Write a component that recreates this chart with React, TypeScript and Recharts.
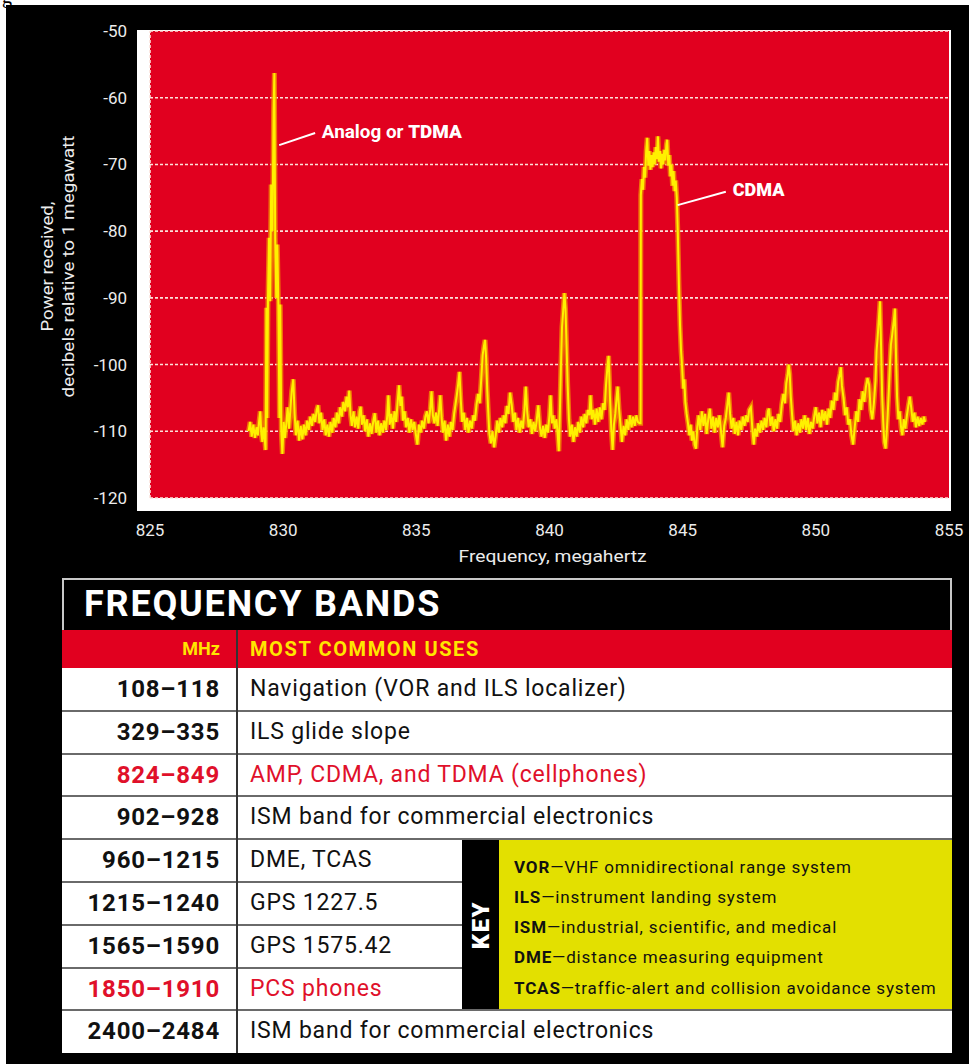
import React from 'react';
import {
  LineChart, Line, XAxis, YAxis, CartesianGrid, ReferenceLine, ReferenceDot,
} from 'recharts';

type Pt = [number, number];

const FONT = 'Roboto, "Liberation Sans", sans-serif';
const RED = '#E1001F';
const HEAD_YELLOW = '#FFE600';
const KEY_YELLOW = '#E3E000';
const GRID = '#FBE2DA';

const freqTicks = [825, 830, 835, 840, 845, 850, 855];
const dbTicks = [-120, -110, -100, -90, -80, -70, -60, -50];

// spectrum trace, [MHz, dB]
const noiseLeft: Pt[] = [
  [828.70, -110.0], [828.76, -108.6], [828.82, -110.8], [828.88, -109.0], [828.94, -111.0],
  [829.00, -109.4], [829.05, -110.6], [829.10, -108.4], [829.14, -107.0], [829.18, -110.4],
  [829.22, -111.6], [829.26, -109.4], [829.30, -110.8], [829.34, -112.8],
];

const analogSpike: Pt[] = [
  [829.37, -91.5], [829.40, -108.0], [829.43, -90.0], [829.47, -81.0], [829.51, -90.5],
  [829.55, -73.0], [829.60, -80.0], [829.64, -62.0], [829.67, -56.3], [829.70, -81.0],
  [829.74, -90.0], [829.78, -82.0], [829.82, -91.0], [829.86, -108.0], [829.89, -91.0],
  [829.93, -110.0],
];

const lowerBand: Pt[] = [
  [829.97, -113.4], [830.02, -108.6], [830.07, -111.0], [830.12, -108.8], [830.17, -106.4],
  [830.22, -109.6], [830.27, -106.8], [830.32, -104.0], [830.38, -102.2], [830.43, -107.4],
  [830.48, -110.6], [830.54, -108.4], [830.60, -111.4], [830.66, -109.2], [830.72, -111.2],
  [830.78, -109.0], [830.84, -110.6], [830.90, -108.4], [830.96, -109.8], [831.02, -107.8],
  [831.08, -109.2], [831.14, -107.4], [831.20, -108.6], [831.26, -106.8], [831.31, -106.1],
  [831.36, -108.8], [831.42, -107.2], [831.48, -109.8], [831.54, -108.2], [831.60, -110.6],
  [831.66, -109.0], [831.72, -110.8], [831.78, -108.6], [831.84, -110.2], [831.90, -108.0],
  [831.96, -109.4], [832.02, -107.2], [832.08, -108.8], [832.14, -106.4], [832.20, -107.8],
  [832.26, -105.6], [832.32, -107.0], [832.38, -104.8], [832.43, -106.4], [832.48, -103.9],
  [832.53, -107.6], [832.58, -109.2], [832.64, -107.0], [832.70, -109.4], [832.76, -107.8],
  [832.82, -109.6], [832.87, -107.0], [832.91, -106.3], [832.96, -109.0], [833.02, -107.6],
  [833.08, -110.0], [833.14, -108.2], [833.20, -110.8], [833.26, -108.8], [833.32, -110.4],
  [833.38, -108.6], [833.44, -107.3], [833.50, -110.2], [833.56, -108.4], [833.62, -110.6],
  [833.68, -108.8], [833.74, -110.2], [833.80, -108.4], [833.86, -109.8], [833.91, -107.6],
  [833.95, -104.6], [834.00, -109.0], [834.06, -107.4], [834.12, -109.6], [834.18, -107.0],
  [834.24, -108.6], [834.30, -105.6], [834.35, -103.1], [834.40, -106.2], [834.45, -104.8],
  [834.50, -108.4], [834.56, -107.0], [834.62, -109.4], [834.68, -108.0], [834.74, -110.2],
  [834.80, -108.2], [834.86, -109.8], [834.92, -108.6], [834.98, -110.4], [835.04, -112.0],
  [835.10, -109.0], [835.16, -110.2], [835.22, -108.4], [835.28, -109.6], [835.34, -107.8],
  [835.40, -107.0], [835.46, -108.8], [835.52, -106.8], [835.57, -104.0], [835.62, -107.6],
  [835.68, -108.8], [835.74, -107.2], [835.80, -109.2], [835.86, -106.6], [835.90, -104.6],
  [835.95, -108.0], [836.00, -110.2], [836.06, -108.4], [836.12, -111.4], [836.18, -109.0],
  [836.24, -110.8], [836.30, -108.6], [836.36, -109.8], [836.42, -107.4], [836.47, -106.0],
  [836.52, -104.6], [836.57, -103.0], [836.62, -101.1], [836.67, -105.4], [836.72, -108.6],
  [836.78, -107.2], [836.84, -109.8], [836.90, -108.0], [836.96, -110.2], [837.02, -108.4],
  [837.08, -109.6], [837.14, -107.6], [837.20, -108.4], [837.26, -106.0], [837.32, -104.4],
  [837.38, -105.8], [837.44, -102.0], [837.49, -98.6], [837.54, -97.2], [837.58, -96.3],
  [837.62, -99.0], [837.66, -103.6], [837.70, -107.0], [837.74, -110.2], [837.80, -111.8],
  [837.86, -110.0], [837.92, -112.4], [837.98, -110.6], [838.04, -108.4], [838.10, -110.2],
  [838.16, -108.0], [838.22, -109.4], [838.28, -107.6], [838.34, -108.8], [838.40, -106.2],
  [838.46, -107.4], [838.52, -104.2], [838.58, -106.0], [838.64, -108.6], [838.70, -107.2],
  [838.76, -109.8], [838.82, -108.0], [838.88, -110.2], [838.94, -108.4], [839.00, -109.6],
  [839.06, -106.8], [839.11, -103.3], [839.16, -107.0], [839.22, -109.4], [839.28, -108.2],
  [839.34, -110.4], [839.40, -108.6], [839.46, -110.0], [839.52, -108.4], [839.58, -106.1],
  [839.64, -109.4], [839.70, -110.8], [839.76, -109.2], [839.82, -111.0], [839.88, -109.0],
  [839.94, -110.2], [840.00, -107.6], [840.04, -104.6], [840.09, -108.8], [840.14, -107.6],
  [840.20, -109.6], [840.26, -108.2], [840.31, -110.6], [840.35, -113.0], [840.39, -107.0],
  [840.43, -100.2], [840.47, -94.4], [840.51, -92.2], [840.56, -89.3], [840.60, -91.6],
  [840.64, -97.0], [840.68, -102.8], [840.73, -108.2], [840.78, -110.8], [840.84, -109.0],
  [840.90, -111.6], [840.96, -109.4], [841.02, -110.8], [841.08, -108.6], [841.14, -110.2],
  [841.20, -107.8], [841.26, -109.4], [841.32, -107.4], [841.38, -108.8], [841.44, -106.8],
  [841.50, -107.6], [841.54, -104.6], [841.59, -108.2], [841.65, -106.8], [841.71, -109.0],
  [841.77, -106.6], [841.83, -108.6], [841.89, -106.4], [841.95, -108.2], [842.01, -105.8],
  [842.07, -106.8], [842.12, -103.2], [842.17, -100.6], [842.22, -98.7], [842.27, -104.8],
  [842.32, -109.6], [842.37, -112.8], [842.42, -109.0], [842.47, -107.4], [842.52, -105.0],
  [842.56, -103.3], [842.61, -106.6], [842.66, -108.8], [842.72, -111.6], [842.78, -109.2],
  [842.84, -110.6], [842.90, -108.2], [842.96, -109.8], [843.02, -107.6], [843.08, -109.4],
  [843.14, -107.8], [843.20, -109.2], [843.26, -107.6], [843.32, -108.6], [843.38, -108.8],
];

const cdmaBlock: Pt[] = [
  [843.42, -108.8], [843.43, -74.6], [843.47, -72.2], [843.51, -73.8], [843.55, -70.4],
  [843.59, -72.0], [843.63, -68.0], [843.67, -66.0], [843.71, -70.2], [843.75, -68.0],
  [843.79, -70.8], [843.83, -68.6], [843.87, -70.4], [843.91, -68.2], [843.95, -70.0],
  [843.99, -67.4], [844.03, -69.2], [844.07, -65.8], [844.11, -69.6], [844.15, -68.0],
  [844.19, -70.6], [844.23, -68.4], [844.27, -70.0], [844.31, -67.8], [844.35, -69.4],
  [844.39, -67.0], [844.42, -66.3], [844.46, -70.2], [844.50, -68.6], [844.54, -71.8],
  [844.58, -70.0], [844.62, -73.2], [844.66, -71.0], [844.70, -74.0], [844.74, -72.4],
  [844.78, -75.0], [844.82, -80.6], [844.86, -88.0], [844.90, -94.0], [844.94, -98.0],
  [844.98, -100.4], [845.02, -103.6], [845.06, -102.2], [845.10, -105.6], [845.15, -107.4],
  [845.20, -108.8], [845.25, -110.6], [845.30, -109.0], [845.35, -111.4], [845.40, -110.0],
  [845.45, -112.0], [845.50, -112.6],
];

const upperBand: Pt[] = [
  [845.55, -109.4], [845.60, -107.6], [845.66, -109.8], [845.72, -107.0], [845.78, -109.2],
  [845.84, -107.4], [845.90, -110.4], [845.96, -108.2], [846.02, -106.6], [846.08, -109.6],
  [846.14, -107.8], [846.20, -110.2], [846.26, -108.0], [846.32, -109.4], [846.38, -107.6],
  [846.44, -110.0], [846.50, -112.4], [846.56, -109.2], [846.62, -108.0], [846.68, -106.0],
  [846.73, -104.2], [846.78, -107.4], [846.84, -109.6], [846.90, -108.0], [846.96, -110.4],
  [847.02, -108.6], [847.08, -110.6], [847.14, -108.4], [847.20, -109.8], [847.26, -107.8],
  [847.32, -109.2], [847.38, -107.6], [847.44, -108.6], [847.50, -106.8], [847.56, -106.4],
  [847.62, -109.8], [847.67, -112.0], [847.72, -109.6], [847.78, -110.8], [847.84, -108.8],
  [847.90, -110.2], [847.96, -108.4], [848.02, -109.8], [848.08, -108.0], [848.14, -109.4],
  [848.20, -107.0], [848.24, -106.6], [848.30, -109.2], [848.36, -107.8], [848.42, -110.0],
  [848.48, -108.2], [848.54, -109.6], [848.60, -107.4], [848.66, -108.6], [848.72, -106.0],
  [848.78, -104.4], [848.84, -105.8], [848.89, -102.8], [848.94, -101.6], [848.98, -100.0],
  [849.02, -101.4], [849.06, -104.8], [849.11, -107.6], [849.16, -110.0], [849.22, -108.4],
  [849.28, -110.6], [849.34, -108.8], [849.40, -110.2], [849.46, -108.2], [849.52, -109.6],
  [849.58, -107.6], [849.64, -109.8], [849.70, -108.0], [849.76, -110.4], [849.82, -108.6],
  [849.88, -109.6], [849.94, -107.8], [850.00, -106.4], [850.06, -108.8], [850.12, -107.2],
  [850.18, -109.4], [850.24, -106.8], [850.30, -108.4], [850.36, -107.0], [850.42, -109.0],
  [850.48, -106.6], [850.54, -108.0], [850.60, -105.4], [850.66, -106.8], [850.72, -104.2],
  [850.78, -105.4], [850.84, -102.6], [850.90, -101.4], [850.94, -100.4], [850.98, -103.2],
  [851.04, -105.0], [851.10, -107.6], [851.16, -106.4], [851.22, -109.0], [851.28, -108.2],
  [851.34, -110.6], [851.40, -112.0], [851.46, -109.4], [851.52, -107.0], [851.58, -108.6],
  [851.64, -105.2], [851.70, -106.8], [851.76, -104.0], [851.82, -105.6], [851.88, -103.4],
  [851.94, -102.0], [852.00, -103.0], [852.06, -106.8], [852.12, -108.2], [852.18, -105.8],
  [852.24, -102.4], [852.28, -98.0], [852.32, -96.0], [852.36, -93.6], [852.41, -90.5],
  [852.45, -97.4], [852.49, -104.6], [852.53, -108.6], [852.57, -111.6], [852.62, -112.6],
  [852.66, -110.2], [852.70, -107.4], [852.74, -104.0], [852.78, -100.2], [852.82, -97.0],
  [852.86, -95.8], [852.90, -94.4], [852.94, -93.0], [852.97, -91.6], [853.01, -98.6],
  [853.05, -104.8], [853.10, -108.2], [853.15, -107.0], [853.20, -109.4], [853.25, -110.6],
  [853.30, -108.2], [853.36, -109.6], [853.42, -107.6], [853.48, -106.0], [853.53, -104.8],
  [853.58, -106.4], [853.64, -108.6], [853.70, -107.2], [853.76, -109.4], [853.82, -107.8],
  [853.88, -109.2], [853.94, -108.0], [854.00, -109.0], [854.06, -107.8], [854.10, -108.6],
];

const trace = [...noiseLeft, ...analogSpike, ...lowerBand, ...cdmaBlock, ...upperBand]
  .map(([f, db]) => ({ f, db }));

// frequency band table
const bandRanges = ['108–118', '329–335', '824–849', '902–928', '960–1215', '1215–1240', '1565–1590', '1850–1910', '2400–2484'];
const bandUses = [
  'Navigation (VOR and ILS localizer)',
  'ILS glide slope',
  'AMP, CDMA, and TDMA (cellphones)',
  'ISM band for commercial electronics',
  'DME, TCAS',
  'GPS 1227.5',
  'GPS 1575.42',
  'PCS phones',
  'ISM band for commercial electronics',
];
const bandHighlighted = [false, false, true, false, false, false, false, true, false];

const keyAbbr = ['VOR', 'ILS', 'ISM', 'DME', 'TCAS'];
const keyMeaning = [
  'VHF omnidirectional range system',
  'instrument landing system',
  'industrial, scientific, and medical',
  'distance measuring equipment',
  'traffic-alert and collision avoidance system',
];

function Spectrum() {
  const tickStyle = { fill: '#ececec', fontSize: 17, fontFamily: FONT };
  return (
    <LineChart width={969} height={580} data={trace} margin={{ top: 31, right: 20, bottom: 0, left: 0 }}>
      <CartesianGrid fill={RED} vertical={false} stroke={GRID} strokeWidth={1.6} strokeDasharray="3 2" />
      <XAxis
        type="number" dataKey="f" domain={[825, 855]} ticks={freqTicks} allowDataOverflow
        axisLine={false} tickLine={false} tickMargin={20} height={82} tick={tickStyle}
        label={{
          content: ({ viewBox }: any) => (
            <text x={viewBox.x + viewBox.width / 2 + 3} y={viewBox.y + 64} textAnchor="middle"
              fill="#ececec" fontSize={17} fontFamily={FONT} textLength={188} lengthAdjust="spacingAndGlyphs">
              Frequency, megahertz
            </text>
          ),
        }}
      />
      <YAxis
        type="number" domain={[-120, -50]} ticks={dbTicks} width={150}
        axisLine={false} tickLine={false} tickMargin={17} tick={tickStyle}
        label={{
          content: ({ viewBox }: any) => {
            const cy = viewBox.y + viewBox.height / 2 + 2;
            return (
              <text transform={`translate(0 ${cy}) rotate(-90)`} textAnchor="middle"
                fill="#ececec" fontSize={17} fontFamily={FONT}>
                <tspan x={0} y={53} textLength={130} lengthAdjust="spacingAndGlyphs">Power received,</tspan>
                <tspan x={0} y={74} textLength={262} lengthAdjust="spacingAndGlyphs">decibels relative to 1 megawatt</tspan>
              </text>
            );
          },
        }}
      />
      <ReferenceLine x={825} stroke={GRID} strokeWidth={1.6} strokeDasharray="3 2" />
      <Line type="linear" dataKey="db" stroke="#F39000" strokeOpacity={0.8} strokeWidth={5} dot={false} isAnimationActive={false} />
      <Line type="linear" dataKey="db" stroke="#FFF000" strokeWidth={2} dot={false} isAnimationActive={false} />
      <ReferenceLine segment={[{ x: 829.85, y: -67.1 }, { x: 831.2, y: -65.3 }]} stroke="#fff" strokeWidth={2} />
      <ReferenceDot
        x={831.45} y={-65.1} r={0}
        shape={(p: any) => (
          <text x={p.cx} y={p.cy} dy={6} fill="#fff" fontSize={18} fontWeight={700} fontFamily={FONT}
            textLength={140} lengthAdjust="spacingAndGlyphs">
            Analog or <tspan fontWeight={900}>TDMA</tspan>
          </text>
        )}
      />
      <ReferenceLine segment={[{ x: 844.81, y: -76.1 }, { x: 846.62, y: -74.1 }]} stroke="#fff" strokeWidth={2} />
      <ReferenceDot
        x={846.88} y={-73.8} r={0}
        shape={(p: any) => (
          <text x={p.cx} y={p.cy} dy={6} fill="#fff" fontSize={18} fontWeight={900} fontFamily={FONT}>CDMA</text>
        )}
      />
    </LineChart>
  );
}

function BandTable() {
  const headH = 52;
  const subH = 38;
  const rowH = 42.8;
  const top0 = headH + subH;
  const keyTop = top0 + 4 * rowH;
  const keyBottom = top0 + 8 * rowH;
  return (
    <div style={{ position: 'absolute', left: 62, top: 578, width: 890, height: top0 + 9 * rowH, background: '#fff', fontFamily: FONT }}>
      <div style={{ position: 'absolute', left: 0, top: 0, width: 886, height: headH - 2, background: '#000', border: '2px solid #c8c8c8', borderBottom: 'none' }}>
        <div style={{ position: 'absolute', left: 20, top: 3, color: '#fff', fontSize: 36, fontWeight: 700, letterSpacing: 1.8 }}>FREQUENCY BANDS</div>
      </div>
      <div style={{ position: 'absolute', left: 0, top: headH, width: 890, height: subH, background: RED, color: HEAD_YELLOW, fontWeight: 700, fontSize: 20 }}>
        <div style={{ position: 'absolute', left: 0, width: 158, top: 7, textAlign: 'right', fontSize: 18, paddingTop: 1 }}>MHz</div>
        <div style={{ position: 'absolute', left: 188, top: 7, letterSpacing: 1.6 }}>MOST COMMON USES</div>
      </div>
      {bandRanges.map((r, i) => {
        const y = top0 + i * rowH;
        const color = bandHighlighted[i] ? '#E0102A' : '#111';
        return (
          <div key={r}>
            <div style={{ position: 'absolute', left: 0, width: 158, top: y, height: rowH, lineHeight: `${rowH}px`, textAlign: 'right', fontWeight: 700, fontSize: 24, color, letterSpacing: 0.8 }}>{r}</div>
            <div style={{ position: 'absolute', left: 188, top: y, height: rowH, lineHeight: `${rowH}px`, fontSize: 23, color, whiteSpace: 'nowrap', letterSpacing: 0.8 }}>{bandUses[i]}</div>
            {i > 0 && (
              <div style={{ position: 'absolute', left: 0, top: y - 1, width: i >= 5 && i <= 7 ? 400 : 890, height: 2, background: '#6a6a6a' }} />
            )}
          </div>
        );
      })}
      <div style={{ position: 'absolute', left: 174, top: headH, width: 1.5, height: subH + 9 * rowH, background: '#333' }} />
      <div style={{ position: 'absolute', left: 400, top: keyTop + 1, width: 37, height: keyBottom - keyTop - 2, background: '#000' }}>
        <div style={{ position: 'absolute', left: '50%', top: '50%', transform: 'translate(-50%, -50%) rotate(-90deg)', color: '#fff', fontWeight: 900, fontSize: 24, letterSpacing: 1.5 }}>KEY</div>
      </div>
      <div style={{ position: 'absolute', left: 437, top: keyTop + 1, width: 453, height: keyBottom - keyTop - 2, background: KEY_YELLOW, display: 'flex', flexDirection: 'column', justifyContent: 'center', paddingTop: 5, boxSizing: 'border-box' }}>
        {keyAbbr.map((a, i) => (
          <div key={a} style={{ height: 30.2, lineHeight: '30.2px', paddingLeft: 15, fontSize: 17, color: '#111', whiteSpace: 'nowrap', letterSpacing: 0.85 }}>
            <b>{a}</b>—{keyMeaning[i]}
          </div>
        ))}
      </div>
    </div>
  );
}

export default function App() {
  return (
    <div style={{ position: 'relative', width: 969, height: 1064, overflow: 'hidden', background: '#fff' }}>
      <style>{'body{margin:0;background:#fff}'}</style>
      <div style={{ position: 'absolute', left: 2, top: -15, fontFamily: '"Liberation Serif", serif', fontSize: 20, color: '#000' }}>g</div>
      <div style={{ position: 'absolute', left: 6, top: 5, right: 0, bottom: 0, background: '#000' }} />
      <div style={{ position: 'absolute', left: 137, top: 30, width: 814, height: 481, background: '#fff' }} />
      <div style={{ position: 'absolute', left: 0, top: 0 }}>
        <Spectrum />
      </div>
      <BandTable />
    </div>
  );
}
